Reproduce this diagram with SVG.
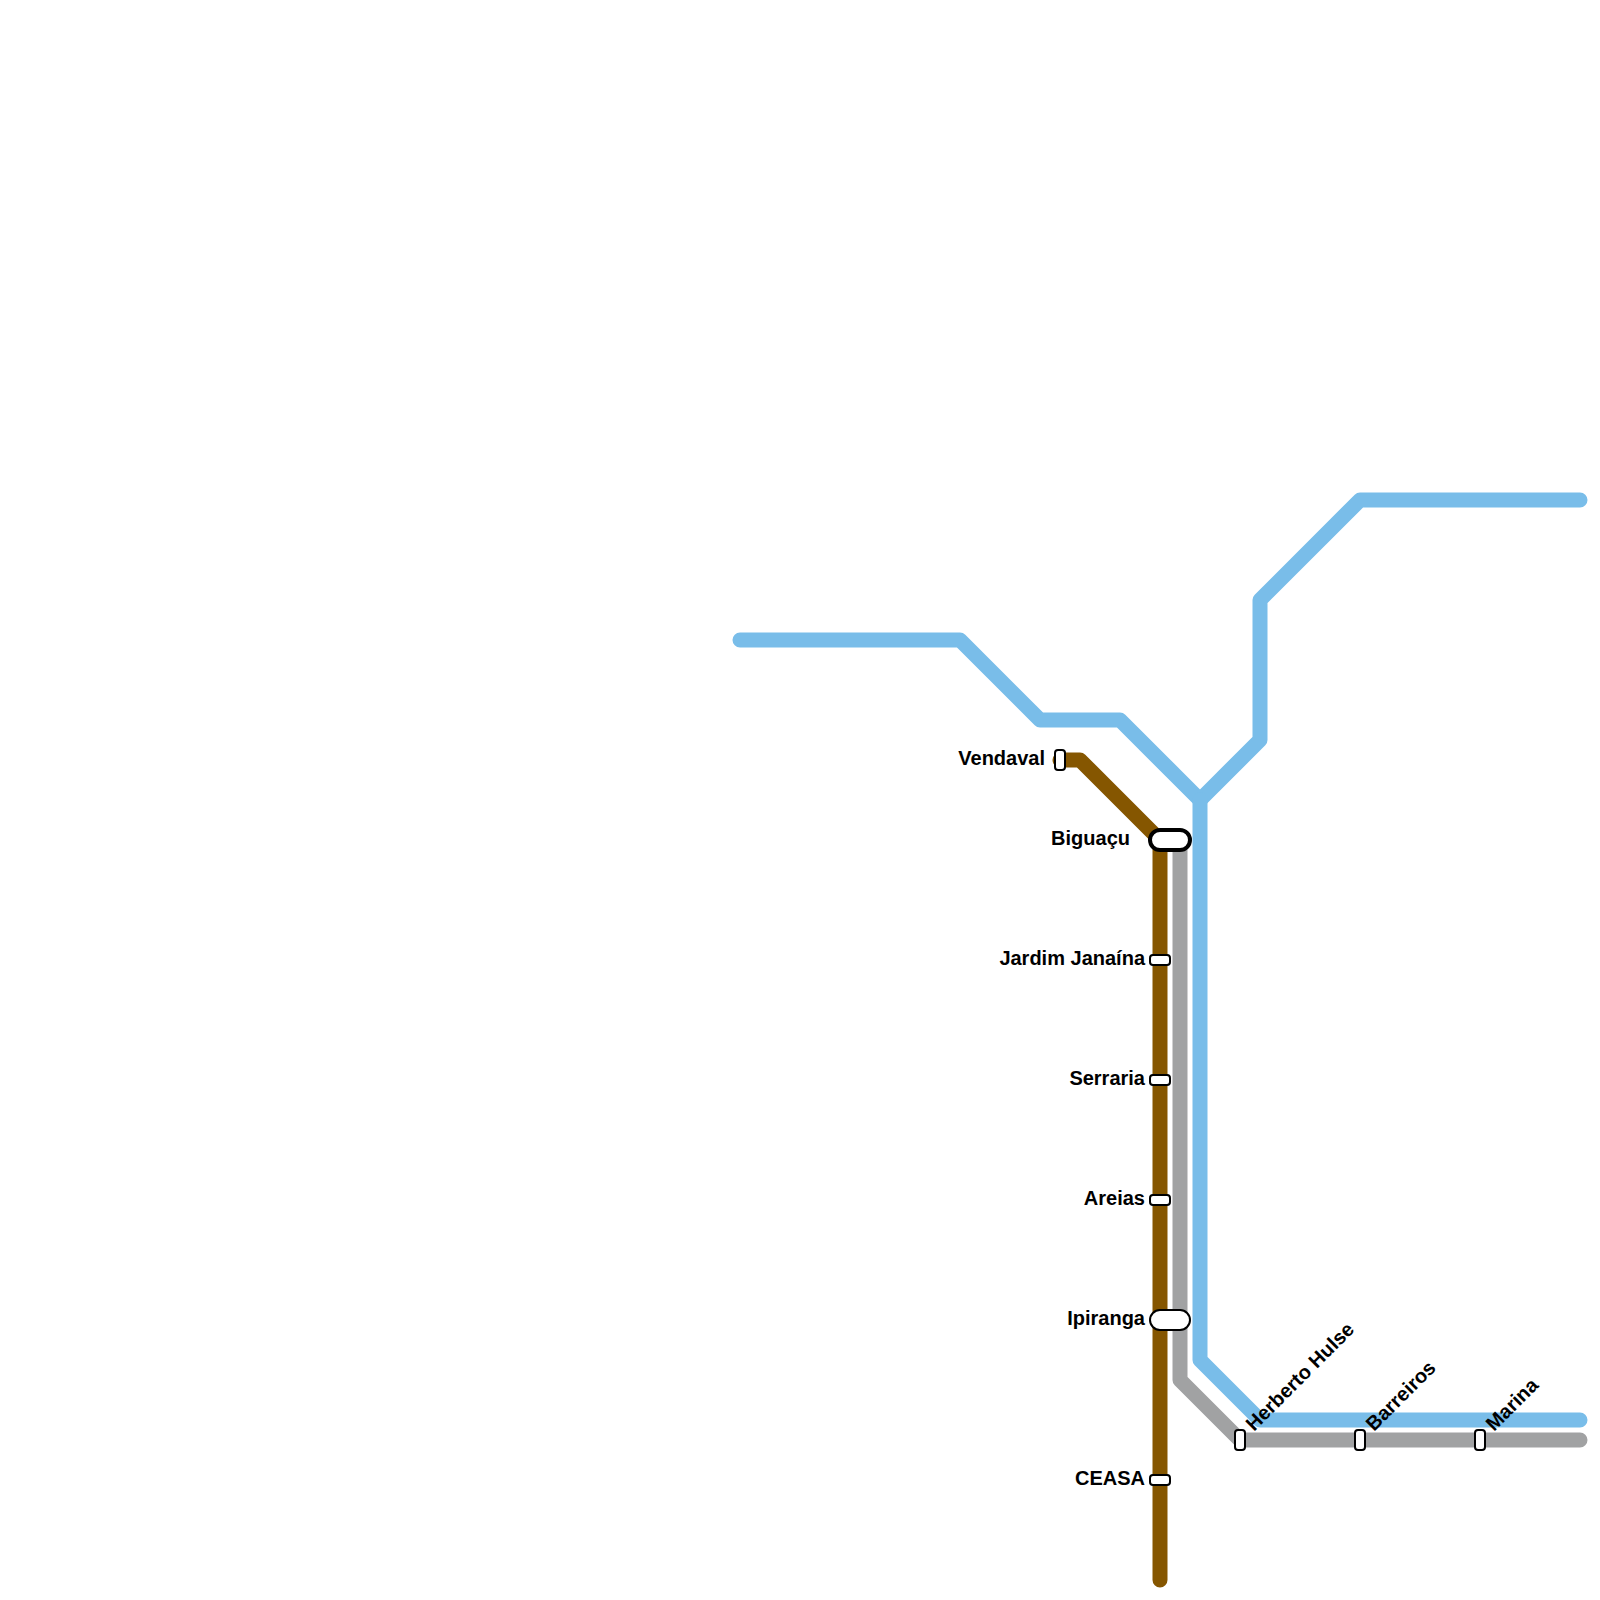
<svg xmlns="http://www.w3.org/2000/svg" width="1600" height="1600" viewBox="0 0 1600 1600">
<style>
.l{fill:none;stroke-width:15;stroke-linecap:round;stroke-linejoin:round}
.b{stroke:#79bde9}.g{stroke:#a1a2a3}.r{stroke:#855600}
.s{fill:#fff;stroke:#000;stroke-width:2}
.t{font-family:"Liberation Sans",Arial,sans-serif;font-weight:700;font-size:20px;fill:#000}
.e{text-anchor:end}
</style>
<rect width="1600" height="1600" fill="#fff"/>
<g id="connectors">
<path class="l g" d="M1180 840V1380L1240 1440H1580"/>
<path class="l b" d="M740 640H960L1040 720H1120L1200 800L1260 740V600L1360 500H1580"/>
<path class="l b" d="M1200 800V1360L1260 1420H1580"/>
<path class="l r" d="M1060 760H1080L1160 840V1580"/>
</g>
<g id="vendaval"><rect class="s" x="1055" y="750" width="10" height="20" rx="3"/><text class="t e" x="1045" y="765">Vendaval</text></g>
<g id="biguacu"><rect class="s" x="1150" y="830" width="40" height="20" rx="10" style="stroke-width:4"/><text class="t e" x="1130" y="845">Biguaçu</text></g>
<g id="jardim-janaina"><rect class="s" x="1150" y="955" width="20" height="10" rx="3"/><text class="t e" x="1145" y="965">Jardim Janaína</text></g>
<g id="serraria"><rect class="s" x="1150" y="1075" width="20" height="10" rx="3"/><text class="t e" x="1145" y="1085">Serraria</text></g>
<g id="areias"><rect class="s" x="1150" y="1195" width="20" height="10" rx="3"/><text class="t e" x="1145" y="1205">Areias</text></g>
<g id="ipiranga"><rect class="s" x="1150" y="1310" width="40" height="20" rx="10"/><text class="t e" x="1145" y="1325">Ipiranga</text></g>
<g id="ceasa"><rect class="s" x="1150" y="1475" width="20" height="10" rx="3"/><text class="t e" x="1145" y="1485">CEASA</text></g>
<g id="herberto-hulse"><rect class="s" x="1235" y="1430" width="10" height="20" rx="3"/><text class="t" transform="translate(1254 1432) rotate(-45)">Herberto Hulse</text></g>
<g id="barreiros"><rect class="s" x="1355" y="1430" width="10" height="20" rx="3"/><text class="t" transform="translate(1374 1432) rotate(-45)">Barreiros</text></g>
<g id="marina"><rect class="s" x="1475" y="1430" width="10" height="20" rx="3"/><text class="t" transform="translate(1494 1432) rotate(-45)">Marina</text></g>
</svg>
